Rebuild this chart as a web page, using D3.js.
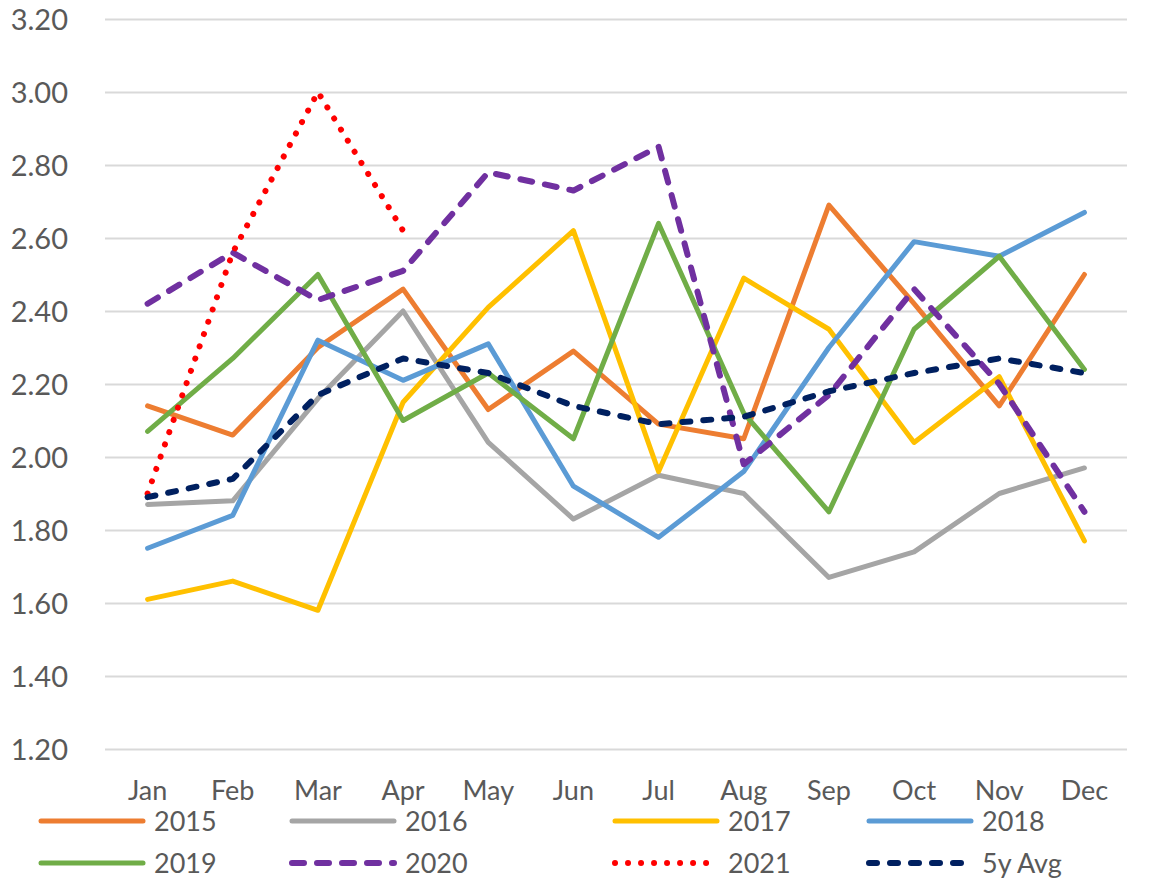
<!DOCTYPE html>
<html>
<head>
<meta charset="utf-8">
<script src="https://cdn.jsdelivr.net/npm/d3@7"></script>
<style>
    body { margin: 0; background: #fff; }
    .tickText { font-family: Lato, "Open Sans", sans-serif; fill: #595959; }
    .legendText { font-family: Lato, "Open Sans", sans-serif; fill: #595959; }
</style>
</head>
<body>
<div class="article"></div>
<script>
// chart data
var months = ["Jan", "Feb", "Mar", "Apr", "May", "Jun", "Jul", "Aug", "Sep", "Oct", "Nov", "Dec"];
var yTicks = [1.2, 1.4, 1.6, 1.8, 2.0, 2.2, 2.4, 2.6, 2.8, 3.0, 3.2];

var y2015 = [2.14, 2.06, 2.30, 2.46, 2.13, 2.29, 2.09, 2.05, 2.69, 2.42, 2.14, 2.50];
var y2016 = [1.87, 1.88, 2.16, 2.40, 2.04, 1.83, 1.95, 1.90, 1.67, 1.74, 1.90, 1.97];
var y2017 = [1.61, 1.66, 1.58, 2.15, 2.41, 2.62, 1.96, 2.49, 2.35, 2.04, 2.22, 1.77];
var y2018 = [1.75, 1.84, 2.32, 2.21, 2.31, 1.92, 1.78, 1.96, 2.30, 2.59, 2.55, 2.67];
var y2019 = [2.07, 2.27, 2.50, 2.10, 2.23, 2.05, 2.64, 2.12, 1.85, 2.35, 2.55, 2.24];
var y2020 = [2.42, 2.56, 2.43, 2.51, 2.78, 2.73, 2.85, 1.98, 2.17, 2.46, 2.20, 1.85];
var y2021 = [1.90, 2.56, 3.00, 2.62, null, null, null, null, null, null, null, null];
var avg5y = [1.89, 1.94, 2.17, 2.27, 2.23, 2.14, 2.09, 2.11, 2.18, 2.23, 2.27, 2.23];

var seriesNames = ["2015", "2016", "2017", "2018", "2019", "2020", "2021", "5y Avg"];

buildChart();

function buildChart() {
    var svgWidth = 1150;
    var svgHeight = 884;
    var margin = { top: 19, right: 23, bottom: 135, left: 105 };

    var chartWidth = svgWidth - margin.left - margin.right;
    var chartHeight = svgHeight - margin.top - margin.bottom;

    // series look, same order as the names
    var looks = [
        { color: "#ED7D31", width: 5, dash: null },
        { color: "#A5A5A5", width: 5, dash: null },
        { color: "#FFC000", width: 5, dash: null },
        { color: "#5B9BD5", width: 5, dash: null },
        { color: "#70AD47", width: 5, dash: null },
        { color: "#7030A0", width: 6, dash: "12,13" },
        { color: "#FF0000", width: 6, dash: "0.01,13" },
        { color: "#002060", width: 6, dash: "8,13" }
    ];
    var allValues = [y2015, y2016, y2017, y2018, y2019, y2020, y2021, avg5y];

    var series = seriesNames.map((name, i) => Object.assign({ name: name, values: allValues[i] }, looks[i]));

    var svg = d3.select(".article").append("svg")
        .attr("width", svgWidth)
        .attr("height", svgHeight);

    var chartGroup = svg.append("g")
        .attr("transform", `translate(${margin.left}, ${margin.top})`);

    var xScale = d3.scaleBand()
        .domain(months)
        .range([0, chartWidth])
        .padding(0);

    var yScale = d3.scaleLinear()
        .domain([1.2, 3.2])
        .range([chartHeight, 0]);

    // y axis with gridlines
    var yAxis = d3.axisLeft(yScale)
        .tickValues(yTicks)
        .tickSize(-chartWidth)
        .tickPadding(37)
        .tickFormat(d3.format(".2f"));

    var yGroup = chartGroup.append("g").call(yAxis);
    yGroup.select(".domain").remove();
    yGroup.selectAll("line")
        .attr("stroke", "#D9D9D9")
        .attr("stroke-width", 2);
    yGroup.selectAll("text")
        .attr("class", "tickText")
        .attr("font-size", 29)
        .attr("dy", "0.36em");

    // x axis, labels only
    var xAxis = d3.axisBottom(xScale)
        .tickSize(0)
        .tickPadding(32);

    var xGroup = chartGroup.append("g")
        .attr("transform", `translate(0, ${chartHeight})`)
        .call(xAxis);
    xGroup.select(".domain").remove();
    xGroup.selectAll("text")
        .attr("class", "tickText")
        .attr("font-size", 27);

    // lines
    var line = d3.line()
        .defined(d => d != null)
        .x((d, i) => xScale(months[i]) + xScale.bandwidth() / 2)
        .y(d => yScale(d));

    chartGroup.append("g")
        .selectAll("path")
        .data(series)
        .enter()
        .append("path")
        .attr("d", d => line(d.values))
        .attr("fill", "none")
        .attr("stroke", d => d.color)
        .attr("stroke-width", d => d.width)
        .attr("stroke-dasharray", d => d.dash)
        .attr("stroke-linecap", "round")
        .attr("stroke-linejoin", "round");

    // legend, two rows of four
    var legendX = [39, 290, 613, 867];
    var legendY = [821, 863];

    var legendItems = svg.append("g")
        .selectAll("g")
        .data(series)
        .enter()
        .append("g")
        .attr("transform", (d, i) => `translate(${legendX[i % 4]}, ${legendY[Math.floor(i / 4)]})`);

    legendItems.append("line")
        .attr("x1", 2)
        .attr("x2", 104)
        .attr("y1", 0)
        .attr("y2", 0)
        .attr("stroke", d => d.color)
        .attr("stroke-width", d => d.width)
        .attr("stroke-dasharray", d => d.dash)
        .attr("stroke-linecap", "round");

    legendItems.append("text")
        .attr("class", "legendText")
        .attr("x", 115)
        .attr("y", 10)
        .attr("font-size", 27)
        .text(d => d.name);
}
</script>
</body>
</html>
